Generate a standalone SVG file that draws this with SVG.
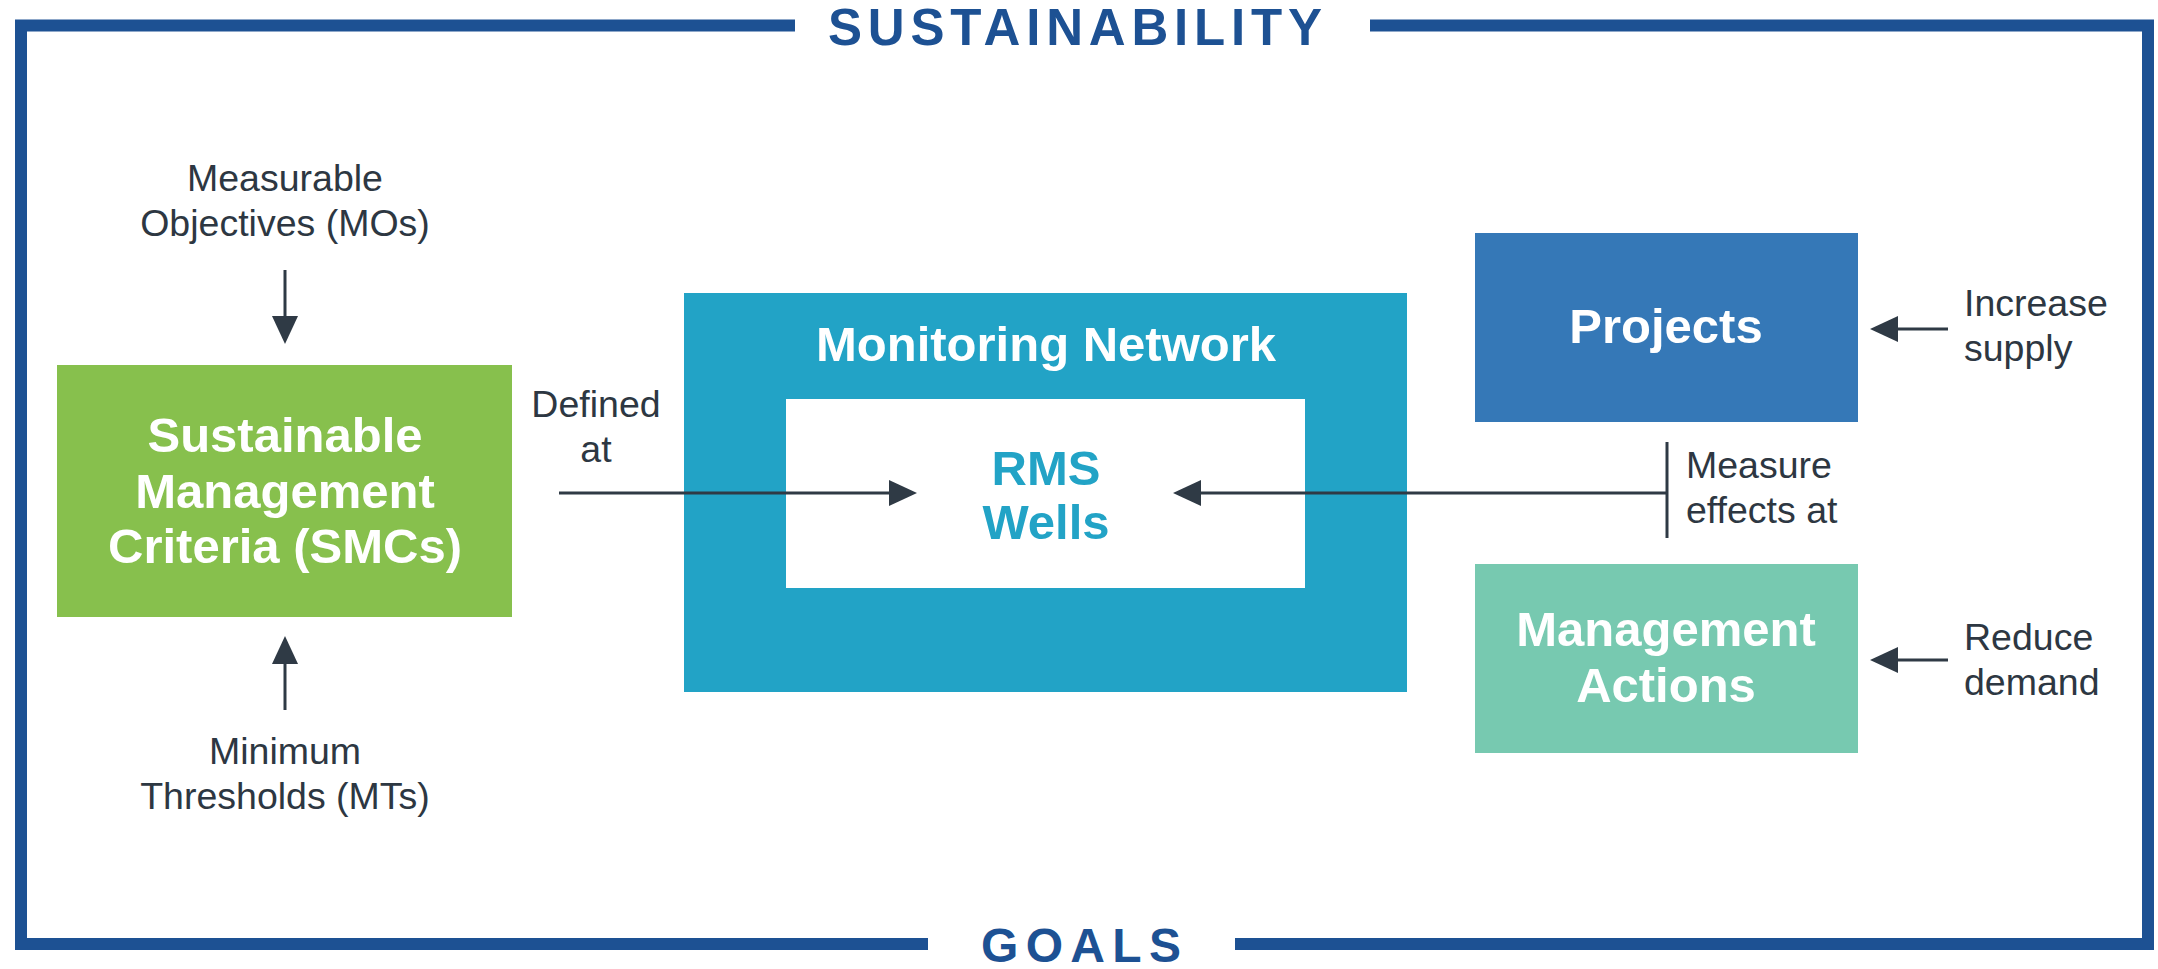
<svg xmlns="http://www.w3.org/2000/svg" width="2158" height="969" viewBox="0 0 2158 969">
  <style>
    .frame { fill: none; stroke: #1d5193; stroke-width: 12; }
    .title { font-family: "Liberation Sans", Arial, sans-serif; font-weight: 700; fill: #1d5193; }
    .label { font-family: "Liberation Sans", Arial, sans-serif; font-size: 37.5px; fill: #2d3742; }
    .boxtext { font-family: "Liberation Sans", Arial, sans-serif; font-weight: 700; font-size: 49px; fill: #ffffff; text-anchor: middle; }
    .conn { fill: none; stroke: #2f3a45; stroke-width: 3; }
  </style>
  <defs>
    <marker id="arrow" markerUnits="userSpaceOnUse" markerWidth="28" markerHeight="26" refX="18" refY="13" orient="auto">
      <path d="M0,0 L28,13 L0,26 Z" fill="#2f3a45"/>
    </marker>
  </defs>

  <rect width="2158" height="969" fill="#ffffff"/>

  <!-- outer frame, broken at the two titles -->
  <g id="frame">
    <path class="frame" d="M795,25.5 H21 V944 H928"/>
    <path class="frame" d="M1235,944 H2148 V25.5 H1370"/>
    <text class="title" x="828" y="45" font-size="51" textLength="494" lengthAdjust="spacing">SUSTAINABILITY</text>
    <text class="title" x="981" y="962" font-size="48" textLength="200" lengthAdjust="spacing">GOALS</text>
  </g>

  <!-- Sustainable Management Criteria -->
  <g id="smc">
    <rect x="57" y="365" width="455" height="252" fill="#87c04d"/>
    <text class="boxtext" x="285" y="452">Sustainable</text>
    <text class="boxtext" x="285" y="508">Management</text>
    <text class="boxtext" x="285" y="563">Criteria (SMCs)</text>
  </g>

  <g id="mo-label">
    <text class="label" x="285" y="191" text-anchor="middle">Measurable</text>
    <text class="label" x="285" y="236" text-anchor="middle">Objectives (MOs)</text>
  </g>

  <g id="mt-label">
    <text class="label" x="285" y="764" text-anchor="middle">Minimum</text>
    <text class="label" x="285" y="809" text-anchor="middle">Thresholds (MTs)</text>
  </g>

  <!-- Monitoring Network with RMS wells -->
  <g id="monitoring-network">
    <rect x="684" y="293" width="723" height="399" fill="#22a3c6"/>
    <text class="boxtext" x="1046" y="361" font-size="56">Monitoring Network</text>
  </g>

  <g id="rms-wells">
    <rect x="786" y="399" width="519" height="189" fill="#ffffff"/>
    <text class="boxtext" x="1046" y="485" style="fill:#22a3c6">RMS</text>
    <text class="boxtext" x="1046" y="539" style="fill:#22a3c6">Wells</text>
  </g>

  <!-- Projects -->
  <g id="projects">
    <rect x="1475" y="233" width="383" height="189" fill="#3578b7"/>
    <text class="boxtext" x="1666" y="343">Projects</text>
  </g>

  <!-- Management Actions -->
  <g id="management-actions">
    <rect x="1475" y="564" width="383" height="189" fill="#77c9b0"/>
    <text class="boxtext" x="1666" y="646">Management</text>
    <text class="boxtext" x="1666" y="702">Actions</text>
  </g>

  <!-- edge labels -->
  <g id="labels">
    <text class="label" x="596" y="417" text-anchor="middle">Defined</text>
    <text class="label" x="596" y="462" text-anchor="middle">at</text>
    <text class="label" x="1686" y="478">Measure</text>
    <text class="label" x="1686" y="523">effects at</text>
    <text class="label" x="1964" y="316">Increase</text>
    <text class="label" x="1964" y="361">supply</text>
    <text class="label" x="1964" y="650">Reduce</text>
    <text class="label" x="1964" y="695">demand</text>
  </g>

  <!-- connectors -->
  <g id="connectors">
    <path class="conn" d="M285,270 V334" marker-end="url(#arrow)"/>
    <path class="conn" d="M285,710 V646" marker-end="url(#arrow)"/>
    <path class="conn" d="M559,493 H907" marker-end="url(#arrow)"/>
    <path class="conn" d="M1667,493 H1183" marker-end="url(#arrow)"/>
    <path class="conn" d="M1667,442 V538" stroke-width="4"/>
    <path class="conn" d="M1948,329 H1880" marker-end="url(#arrow)"/>
    <path class="conn" d="M1948,660 H1880" marker-end="url(#arrow)"/>
  </g>
</svg>
